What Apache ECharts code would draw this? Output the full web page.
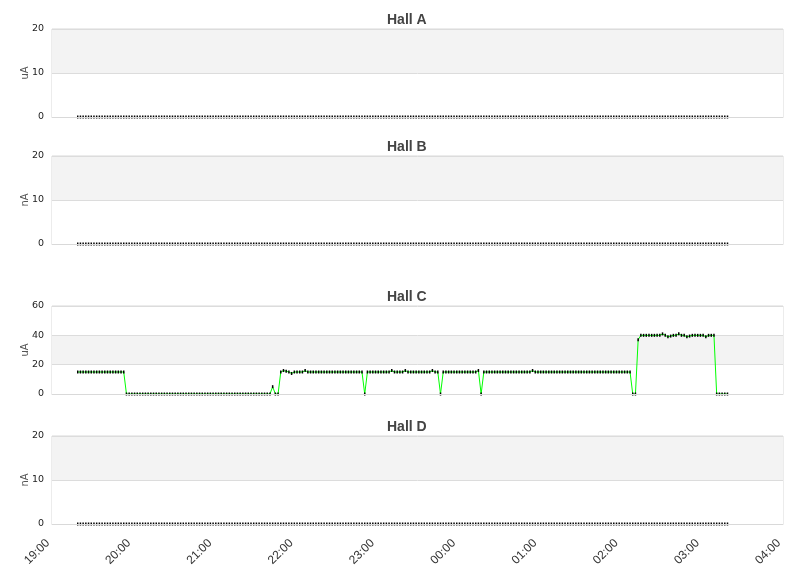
<!DOCTYPE html>
<html>
<head>
<meta charset="utf-8">
<title>Hall currents</title>
<script src="https://cdn.jsdelivr.net/npm/echarts@6/dist/echarts.min.js"></script>
<style>
  html, body { margin: 0; padding: 0; background: #fff; }
  #main { width: 811px; height: 578px; }
</style>
</head>
<body>
<div id="main"></div>
<script>
// sample times (every 2 min, evening -> next morning)
var times = [
  '19:19','19:21','19:23','19:25','19:27','19:29','19:31','19:33','19:35','19:37','19:39','19:41','19:43','19:45','19:47','19:49','19:51','19:53','19:55','19:57','19:59',
  '20:01','20:03','20:05','20:07','20:09','20:11','20:13','20:15','20:17','20:19','20:21','20:23','20:25','20:27','20:29','20:31','20:33','20:35','20:37','20:39','20:41','20:43','20:45','20:47','20:49','20:51','20:53','20:55','20:57','20:59',
  '21:01','21:03','21:05','21:07','21:09','21:11','21:13','21:15','21:17','21:19','21:21','21:23','21:25','21:27','21:29','21:31','21:33','21:35','21:37','21:39','21:41','21:43','21:45','21:47','21:49','21:51','21:53','21:55','21:57','21:59',
  '22:01','22:03','22:05','22:07','22:09','22:11','22:13','22:15','22:17','22:19','22:21','22:23','22:25','22:27','22:29','22:31','22:33','22:35','22:37','22:39','22:41','22:43','22:45','22:47','22:49','22:51','22:53','22:55','22:57','22:59',
  '23:01','23:03','23:05','23:07','23:09','23:11','23:13','23:15','23:17','23:19','23:21','23:23','23:25','23:27','23:29','23:31','23:33','23:35','23:37','23:39','23:41','23:43','23:45','23:47','23:49','23:51','23:53','23:55','23:57','23:59',
  '00:01','00:03','00:05','00:07','00:09','00:11','00:13','00:15','00:17','00:19','00:21','00:23','00:25','00:27','00:29','00:31','00:33','00:35','00:37','00:39','00:41','00:43','00:45','00:47','00:49','00:51','00:53','00:55','00:57','00:59',
  '01:01','01:03','01:05','01:07','01:09','01:11','01:13','01:15','01:17','01:19','01:21','01:23','01:25','01:27','01:29','01:31','01:33','01:35','01:37','01:39','01:41','01:43','01:45','01:47','01:49','01:51','01:53','01:55','01:57','01:59',
  '02:01','02:03','02:05','02:07','02:09','02:11','02:13','02:15','02:17','02:19','02:21','02:23','02:25','02:27','02:29','02:31','02:33','02:35','02:37','02:39','02:41','02:43','02:45','02:47','02:49','02:51','02:53','02:55','02:57','02:59',
  '03:01','03:03','03:05','03:07','03:09','03:11','03:13','03:15','03:17','03:19'
];

var hallAValues = [
  0,0,0,0,0,0,0,0,0,0, 0,0,0,0,0,0,0,0,0,0, 0,
  0,0,0,0,0,0,0,0,0,0, 0,0,0,0,0,0,0,0,0,0, 0,0,0,0,0,0,0,0,0,0,
  0,0,0,0,0,0,0,0,0,0, 0,0,0,0,0,0,0,0,0,0, 0,0,0,0,0,0,0,0,0,0,
  0,0,0,0,0,0,0,0,0,0, 0,0,0,0,0,0,0,0,0,0, 0,0,0,0,0,0,0,0,0,0,
  0,0,0,0,0,0,0,0,0,0, 0,0,0,0,0,0,0,0,0,0, 0,0,0,0,0,0,0,0,0,0,
  0,0,0,0,0,0,0,0,0,0, 0,0,0,0,0,0,0,0,0,0, 0,0,0,0,0,0,0,0,0,0,
  0,0,0,0,0,0,0,0,0,0, 0,0,0,0,0,0,0,0,0,0, 0,0,0,0,0,0,0,0,0,0,
  0,0,0,0,0,0,0,0,0,0, 0,0,0,0,0,0,0,0,0,0, 0,0,0,0,0,0,0,0,0,0,
  0,0,0,0,0,0,0,0,0,0
];

var hallBValues = [
  0,0,0,0,0,0,0,0,0,0, 0,0,0,0,0,0,0,0,0,0, 0,
  0,0,0,0,0,0,0,0,0,0, 0,0,0,0,0,0,0,0,0,0, 0,0,0,0,0,0,0,0,0,0,
  0,0,0,0,0,0,0,0,0,0, 0,0,0,0,0,0,0,0,0,0, 0,0,0,0,0,0,0,0,0,0,
  0,0,0,0,0,0,0,0,0,0, 0,0,0,0,0,0,0,0,0,0, 0,0,0,0,0,0,0,0,0,0,
  0,0,0,0,0,0,0,0,0,0, 0,0,0,0,0,0,0,0,0,0, 0,0,0,0,0,0,0,0,0,0,
  0,0,0,0,0,0,0,0,0,0, 0,0,0,0,0,0,0,0,0,0, 0,0,0,0,0,0,0,0,0,0,
  0,0,0,0,0,0,0,0,0,0, 0,0,0,0,0,0,0,0,0,0, 0,0,0,0,0,0,0,0,0,0,
  0,0,0,0,0,0,0,0,0,0, 0,0,0,0,0,0,0,0,0,0, 0,0,0,0,0,0,0,0,0,0,
  0,0,0,0,0,0,0,0,0,0
];

var hallCValues = [
  15,15,15,15,15,15,15,15,15,15, 15,15,15,15,15,15,15,15,0,0, 0,
  0,0,0,0,0,0,0,0,0,0, 0,0,0,0,0,0,0,0,0,0, 0,0,0,0,0,0,0,0,0,0,
  0,0,0,0,0,0,0,0,0,0, 0,0,0,0,0,0,0,0,0,0, 0,5,0,0,15,16,15.5,15,14,15,
  15,15,15,16,15,15,15,15,15,15, 15,15,15,15,15,15,15,15,15,15, 15,15,15,15,15,0,15,15,15,15,
  15,15,15,15,15,16,15,15,15,15, 16,15,15,15,15,15,15,15,15,15, 16,15,15,0,15,15,15,15,15,15,
  15,15,15,15,15,15,15,16,0,15, 15,15,15,15,15,15,15,15,15,15, 15,15,15,15,15,15,15,16,15,15,
  15,15,15,15,15,15,15,15,15,15, 15,15,15,15,15,15,15,15,15,15, 15,15,15,15,15,15,15,15,15,15,
  15,15,15,15,0,0,37,40,40,40, 40,40,40,40,40,41,40,39,39.5,40, 40,41,40,40,39,39.5,40,40,40,40,
  40,39,40,40,40,0,0,0,0,0
];

var hallDValues = [
  0,0,0,0,0,0,0,0,0,0, 0,0,0,0,0,0,0,0,0,0, 0,
  0,0,0,0,0,0,0,0,0,0, 0,0,0,0,0,0,0,0,0,0, 0,0,0,0,0,0,0,0,0,0,
  0,0,0,0,0,0,0,0,0,0, 0,0,0,0,0,0,0,0,0,0, 0,0,0,0,0,0,0,0,0,0,
  0,0,0,0,0,0,0,0,0,0, 0,0,0,0,0,0,0,0,0,0, 0,0,0,0,0,0,0,0,0,0,
  0,0,0,0,0,0,0,0,0,0, 0,0,0,0,0,0,0,0,0,0, 0,0,0,0,0,0,0,0,0,0,
  0,0,0,0,0,0,0,0,0,0, 0,0,0,0,0,0,0,0,0,0, 0,0,0,0,0,0,0,0,0,0,
  0,0,0,0,0,0,0,0,0,0, 0,0,0,0,0,0,0,0,0,0, 0,0,0,0,0,0,0,0,0,0,
  0,0,0,0,0,0,0,0,0,0, 0,0,0,0,0,0,0,0,0,0, 0,0,0,0,0,0,0,0,0,0,
  0,0,0,0,0,0,0,0,0,0
];

var panelTitles = ['Hall A', 'Hall B', 'Hall C', 'Hall D'];
var panelUnits = ['uA', 'nA', 'uA', 'nA'];
var panelMax = [20, 20, 60, 20];
var panelStep = [10, 10, 20, 10];
var panelValues = [hallAValues, hallBValues, hallCValues, hallDValues];

// x axis: minutes from midnight of the first day, 19:00 .. 04:00
var xStart = 19 * 60;
var xEnd = 28 * 60;

var gridTops = [29, 156, 306, 436];

function toMinutes(t) {
    var h = parseInt(t.slice(0, 2), 10);
    var m = parseInt(t.slice(3, 5), 10);
    if (h < 12) h += 24;
    return h * 60 + m;
}

var xMinutes = times.map(toMinutes);

// green trace that fades out on the very bottom row, so runs along zero
// stay hidden under the axis line like in the original plot
var traceColor = new echarts.graphic.LinearGradient(0, 0, 0, 1, [
    {offset: 0, color: '#00ff00'},
    {offset: 0.985, color: '#00ff00'},
    {offset: 0.99, color: 'rgba(0,255,0,0)'},
    {offset: 1, color: 'rgba(0,255,0,0)'}
]);

var titles = [], grids = [], xAxes = [], yAxes = [], series = [];

panelTitles.forEach(function (name, i) {
    var values = panelValues[i];
    var points = values.map(function (v, k) { return [xMinutes[k], v]; });
    var flat = Math.max.apply(null, values) === 0;

    titles.push({
        text: name,
        left: 387,
        top: gridTops[i] - 16,
        padding: 0,
        textStyle: {fontFamily: 'Liberation Sans', fontSize: 14, fontWeight: 'bold', color: '#444'}
    });
    grids.push({
        left: 52, right: 28, top: gridTops[i], height: 88,
        show: true, borderColor: '#d9d9d9', borderWidth: 1, backgroundColor: 'transparent'
    });
    xAxes.push({
        type: 'value',
        gridIndex: i,
        min: xStart,
        max: xEnd,
        interval: 60,
        z: 5,
        axisLine: {show: true, lineStyle: {color: '#d9d9d9', width: 1}},
        axisTick: {show: false},
        splitLine: {show: false},
        axisLabel: {
            show: i === 3,
            rotate: 45,
            margin: 13,
            padding: [0, 6, 0, 0],
            fontFamily: 'Liberation Sans',
            fontSize: 12,
            color: '#333',
            formatter: function (v) {
                var h = Math.floor(v / 60) % 24;
                return (h < 10 ? '0' : '') + h + ':00';
            }
        }
    });
    yAxes.push({
        type: 'value',
        gridIndex: i,
        min: 0,
        max: panelMax[i],
        interval: panelStep[i],
        name: panelUnits[i],
        nameLocation: 'middle',
        nameGap: 22,
        nameMoveOverlap: false,
        nameTextStyle: {fontFamily: 'DejaVu Sans', fontSize: 10, color: '#555'},
        axisLine: {show: false},
        axisTick: {show: false},
        axisLabel: {fontFamily: 'DejaVu Sans', fontSize: 9.5, color: '#222', margin: 8, padding: [4, 0, 0, 0]},
        splitLine: {lineStyle: {color: '#dcdcdc'}},
        splitArea: {show: true, areaStyle: {color: ['#ffffff', '#f3f3f3']}}
    });
    series.push({
        name: name,
        type: 'line',
        xAxisIndex: i,
        yAxisIndex: i,
        data: points,
        symbol: 'rect',
        symbolSize: [1.5, 3],
        showSymbol: true,
        showAllSymbol: true,
        itemStyle: {color: '#000'},
        lineStyle: {width: 1, color: flat ? 'rgba(0,255,0,0)' : traceColor},
        emphasis: {disabled: true},
        silent: true
    });
});

var myChart = echarts.init(document.getElementById('main'));
myChart.setOption({
    animation: false,
    title: titles,
    grid: grids,
    xAxis: xAxes,
    yAxis: yAxes,
    series: series
});
</script>
</body>
</html>
